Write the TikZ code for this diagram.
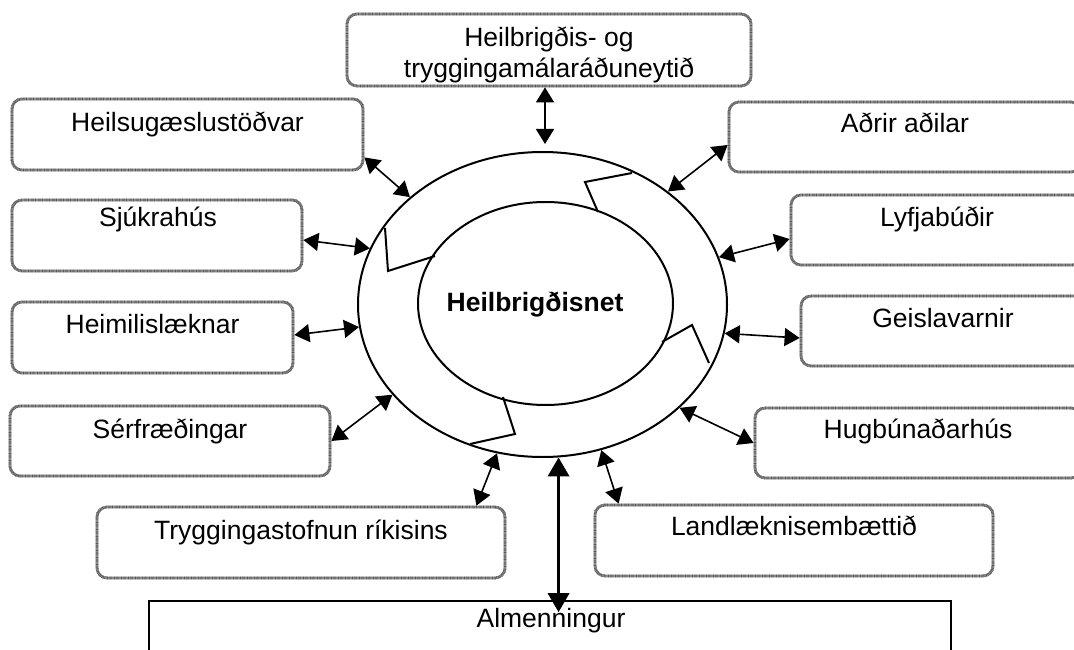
\documentclass[tikz,border=0pt]{standalone}
\usepackage{fontspec}
\setmainfont{Liberation Sans}
\usetikzlibrary{arrows.meta,shapes.geometric,calc}
\begin{document}
\begin{tikzpicture}[x=1pt,y=-1pt,
  gbox/.style={rectangle, inner sep=0pt, rounded corners=10pt,
    draw=black!35, line width=2.8pt,
    postaction={draw=black!65, line width=2.8pt, dash pattern=on 0.7pt off 0.7pt}},
  lbl/.style={anchor=base, inner sep=0pt, font=\fontsize{26.5}{31}\selectfont},
  ring/.style={ellipse, draw=black, line width=2pt, inner sep=0pt},
  tip/.style={Triangle[length=15pt,width=18pt]},
  arr/.style={{Triangle[length=15pt,width=18pt]}-{Triangle[length=15pt,width=18pt]}, line width=1.6pt},
  bigarr/.style={{Triangle[length=19pt,width=21pt]}-{Triangle[length=19pt,width=21pt]}, line width=3.4pt},
  notch/.style={draw=black, line width=2pt, line join=miter}
]
\useasboundingbox (0,0) rectangle (1074,650);
\fill[white] (0,0) rectangle (1074,650);

% boxes
\node[gbox, minimum width=404pt, minimum height=72pt] (tp) at (549,50) {};
\node[gbox, minimum width=351pt, minimum height=71pt] (hs) at (187.5,134.5) {};
\node[gbox, minimum width=290pt, minimum height=71pt] (sj) at (157,235.5) {};
\node[gbox, minimum width=281pt, minimum height=71pt] (he) at (152.5,337.5) {};
\node[gbox, minimum width=320pt, minimum height=70pt] (se) at (170,441) {};
\node[gbox, minimum width=408pt, minimum height=71pt] (tr) at (301,542.5) {};
\node[gbox, minimum width=398pt, minimum height=71pt] (la) at (794,540.5) {};
\node[gbox, minimum width=326pt, minimum height=70pt] (hu) at (918,443) {};
\node[gbox, minimum width=284pt, minimum height=70pt] (ge) at (943,331) {};
\node[gbox, minimum width=292pt, minimum height=70pt] (ly) at (937,230) {};
\node[gbox, minimum width=352pt, minimum height=70pt] (ad) at (905,137) {};
\node[rectangle, draw=black, line width=1.6pt, inner sep=0pt,
      minimum width=802pt, minimum height=99pt] (al) at (550,650.5) {};

% labels
\node[lbl] (tpt1) at (549,47) {Heilbrigðis- og};
\node[lbl] (tpt2) at (549,78) {tryggingamálaráðuneytið};
\node[lbl] (hst) at (187.5,132) {Heilsugæslustöðvar};
\node[lbl] (sjt) at (158,226) {Sjúkrahús};
\node[lbl] (het) at (152.5,333) {Heimilislæknar};
\node[lbl] (set) at (170,438) {Sérfræðingar};
\node[lbl] (trt) at (301,539) {Tryggingastofnun ríkisins};
\node[lbl] (lat) at (794,535) {Landlæknisembættið};
\node[lbl] (hut) at (918,438) {Hugbúnaðarhús};
\node[lbl] (get) at (943,327) {Geislavarnir};
\node[lbl] (lyt) at (937,226) {Lyfjabúðir};
\node[lbl] (adt) at (905,133) {Aðrir aðilar};
\node[lbl] (alt) at (551,627) {Almenningur};

% ring
\node[ring, minimum width=369pt, minimum height=305pt] (outer) at (542.5,304.5) {};
\node[ring, minimum width=255pt, minimum height=203pt] (inner) at (545.5,303.5) {};
\node[lbl, font=\fontsize{26.5}{31}\selectfont\bfseries] (net) at (535,311) {Heilbrigðisnet};

% notches of the circular arrow
\draw[notch] (632,173) -- (585,182) -- (598,212);
\draw[notch] (385,228) -- (388,271) -- (435,256);
\draw[notch] (662,342) -- (692,325) -- (709,363);
\draw[notch] (503,397) -- (515,434) -- (470,444);

% connectors
\draw[arr] ([xshift=-4pt]tp.south) -- ([xshift=2.5pt,yshift=7pt]outer.north);
\draw[arr] ([yshift=14pt]hs.south east) -- (outer.141.1);
\draw[arr] ([yshift=-4.5pt]sj.east) -- (outer.162.2);
\draw[arr] ([yshift=2.5pt]he.east) -- (outer.187.9);
\draw[arr] (se.east) -- (outer.211.5);
\draw[arr] ([xshift=-30pt]tr.north east) -- (outer.253);
\draw[bigarr] (outer.276.3) -- ($(outer.276.3 |- al.north)+(0,12)$);
\draw[arr] ([xshift=25pt]la.north west) -- (outer.292.3);
\draw[arr] (hu.west) -- (outer.323.9);
\draw[arr] ([yshift=-7pt]ge.west) -- (outer.351.4);
\draw[arr] ([yshift=-9pt]ly.west) -- (outer.15.5);
\draw[arr] ([yshift=-8pt]ad.west) -- (outer.42.6);
\end{tikzpicture}
\end{document}
